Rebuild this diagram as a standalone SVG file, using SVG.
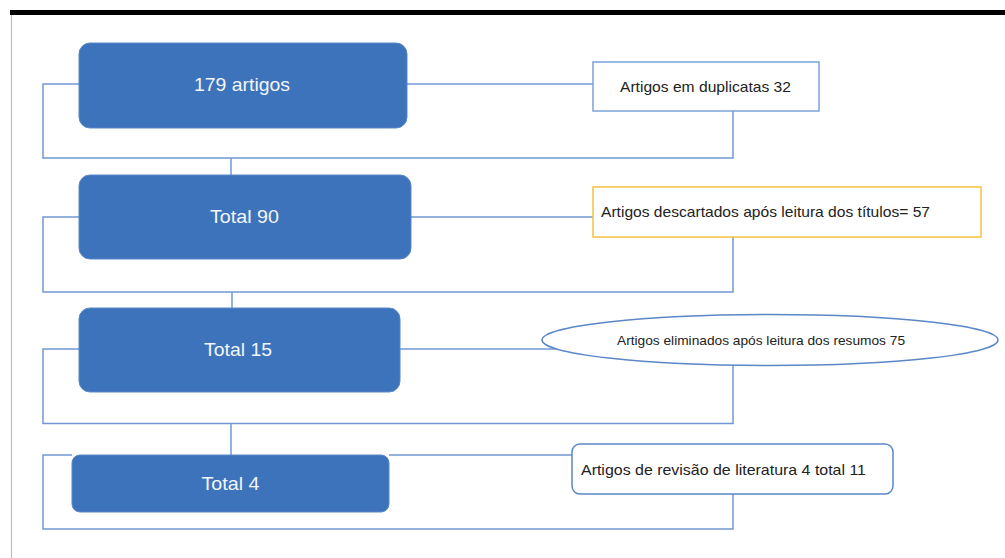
<svg xmlns="http://www.w3.org/2000/svg" width="1005" height="558" viewBox="0 0 1005 558">
  <style>
    .blk { fill: #3d73bb; stroke: #5b87c7; stroke-width: 1; }
    .ln { fill: none; stroke: #6f98d2; stroke-width: 1.5; }
    .wt { fill: #f2f6fb; font-family: "Liberation Sans", Arial, sans-serif; text-anchor: middle; }
    .dk { fill: #222; font-family: "Liberation Sans", Arial, sans-serif; }
  </style>
  <rect x="0" y="0" width="1005" height="558" fill="#ffffff"/>
  <rect x="10" y="10" width="995" height="5" fill="#000000"/>
  <line x1="11.5" y1="15" x2="11.5" y2="558" stroke="#bdbdbd" stroke-width="1.2"/>

  <g id="connectors">
    <polyline class="ln" points="79,84 43,84 43,158 733,158 733,111"/>
    <line class="ln" x1="407" y1="84" x2="593" y2="84"/>
    <line class="ln" x1="231" y1="158" x2="231" y2="175"/>

    <polyline class="ln" points="79,217 43,217 43,292 733,292 733,237"/>
    <line class="ln" x1="411" y1="217" x2="593" y2="217"/>
    <line class="ln" x1="232" y1="292" x2="232" y2="308"/>

    <polyline class="ln" points="79,349 43,349 43,423.5 733,423.5 733,365"/>
    <line class="ln" x1="400" y1="349" x2="560" y2="349"/>
    <line class="ln" x1="231" y1="423.5" x2="231" y2="455"/>

    <polyline class="ln" points="72,455 43,455 43,529 733,529 733,494"/>
    <line class="ln" x1="389" y1="455" x2="572" y2="455"/>
  </g>

  <g id="n1">
    <rect class="blk" x="79" y="43" width="328" height="85" rx="11"/>
    <text class="wt" x="242" y="91" font-size="19" textLength="96" lengthAdjust="spacingAndGlyphs">179 artigos</text>
  </g>
  <g id="n1r">
    <rect x="593" y="62" width="226" height="49" fill="#ffffff" stroke="#7aa4da" stroke-width="1.5"/>
    <text class="dk" x="620" y="92" font-size="15" textLength="171" lengthAdjust="spacingAndGlyphs">Artigos em duplicatas 32</text>
  </g>

  <g id="n2">
    <rect class="blk" x="79" y="175" width="332" height="84" rx="11"/>
    <text class="wt" x="244.5" y="223" font-size="19" textLength="69" lengthAdjust="spacingAndGlyphs">Total 90</text>
  </g>
  <g id="n2r">
    <rect x="593" y="187" width="388" height="50" fill="#ffffff" stroke="#f5c242" stroke-width="1.5"/>
    <text class="dk" x="601" y="217" font-size="15" textLength="329" lengthAdjust="spacingAndGlyphs">Artigos descartados após leitura dos títulos= 57</text>
  </g>

  <g id="n3">
    <rect class="blk" x="79" y="308" width="321" height="84" rx="11"/>
    <text class="wt" x="238" y="356" font-size="19" textLength="68" lengthAdjust="spacingAndGlyphs">Total 15</text>
  </g>
  <g id="n3r">
    <ellipse cx="770" cy="340" rx="228" ry="25.5" fill="#ffffff" stroke="#5b87c7" stroke-width="1.5"/>
    <text class="dk" x="617" y="345" font-size="13" textLength="288" lengthAdjust="spacingAndGlyphs">Artigos eliminados após leitura dos resumos 75</text>
  </g>

  <g id="n4">
    <rect class="blk" x="72" y="455" width="317" height="57" rx="8"/>
    <text class="wt" x="230.5" y="490" font-size="19" textLength="58" lengthAdjust="spacingAndGlyphs">Total 4</text>
  </g>
  <g id="n4r">
    <rect x="572" y="444" width="321" height="50" rx="8" fill="#ffffff" stroke="#5b87c7" stroke-width="1.5"/>
    <text class="dk" x="581" y="475" font-size="15" textLength="285" lengthAdjust="spacingAndGlyphs">Artigos de revisão de literatura 4 total 11</text>
  </g>
</svg>
